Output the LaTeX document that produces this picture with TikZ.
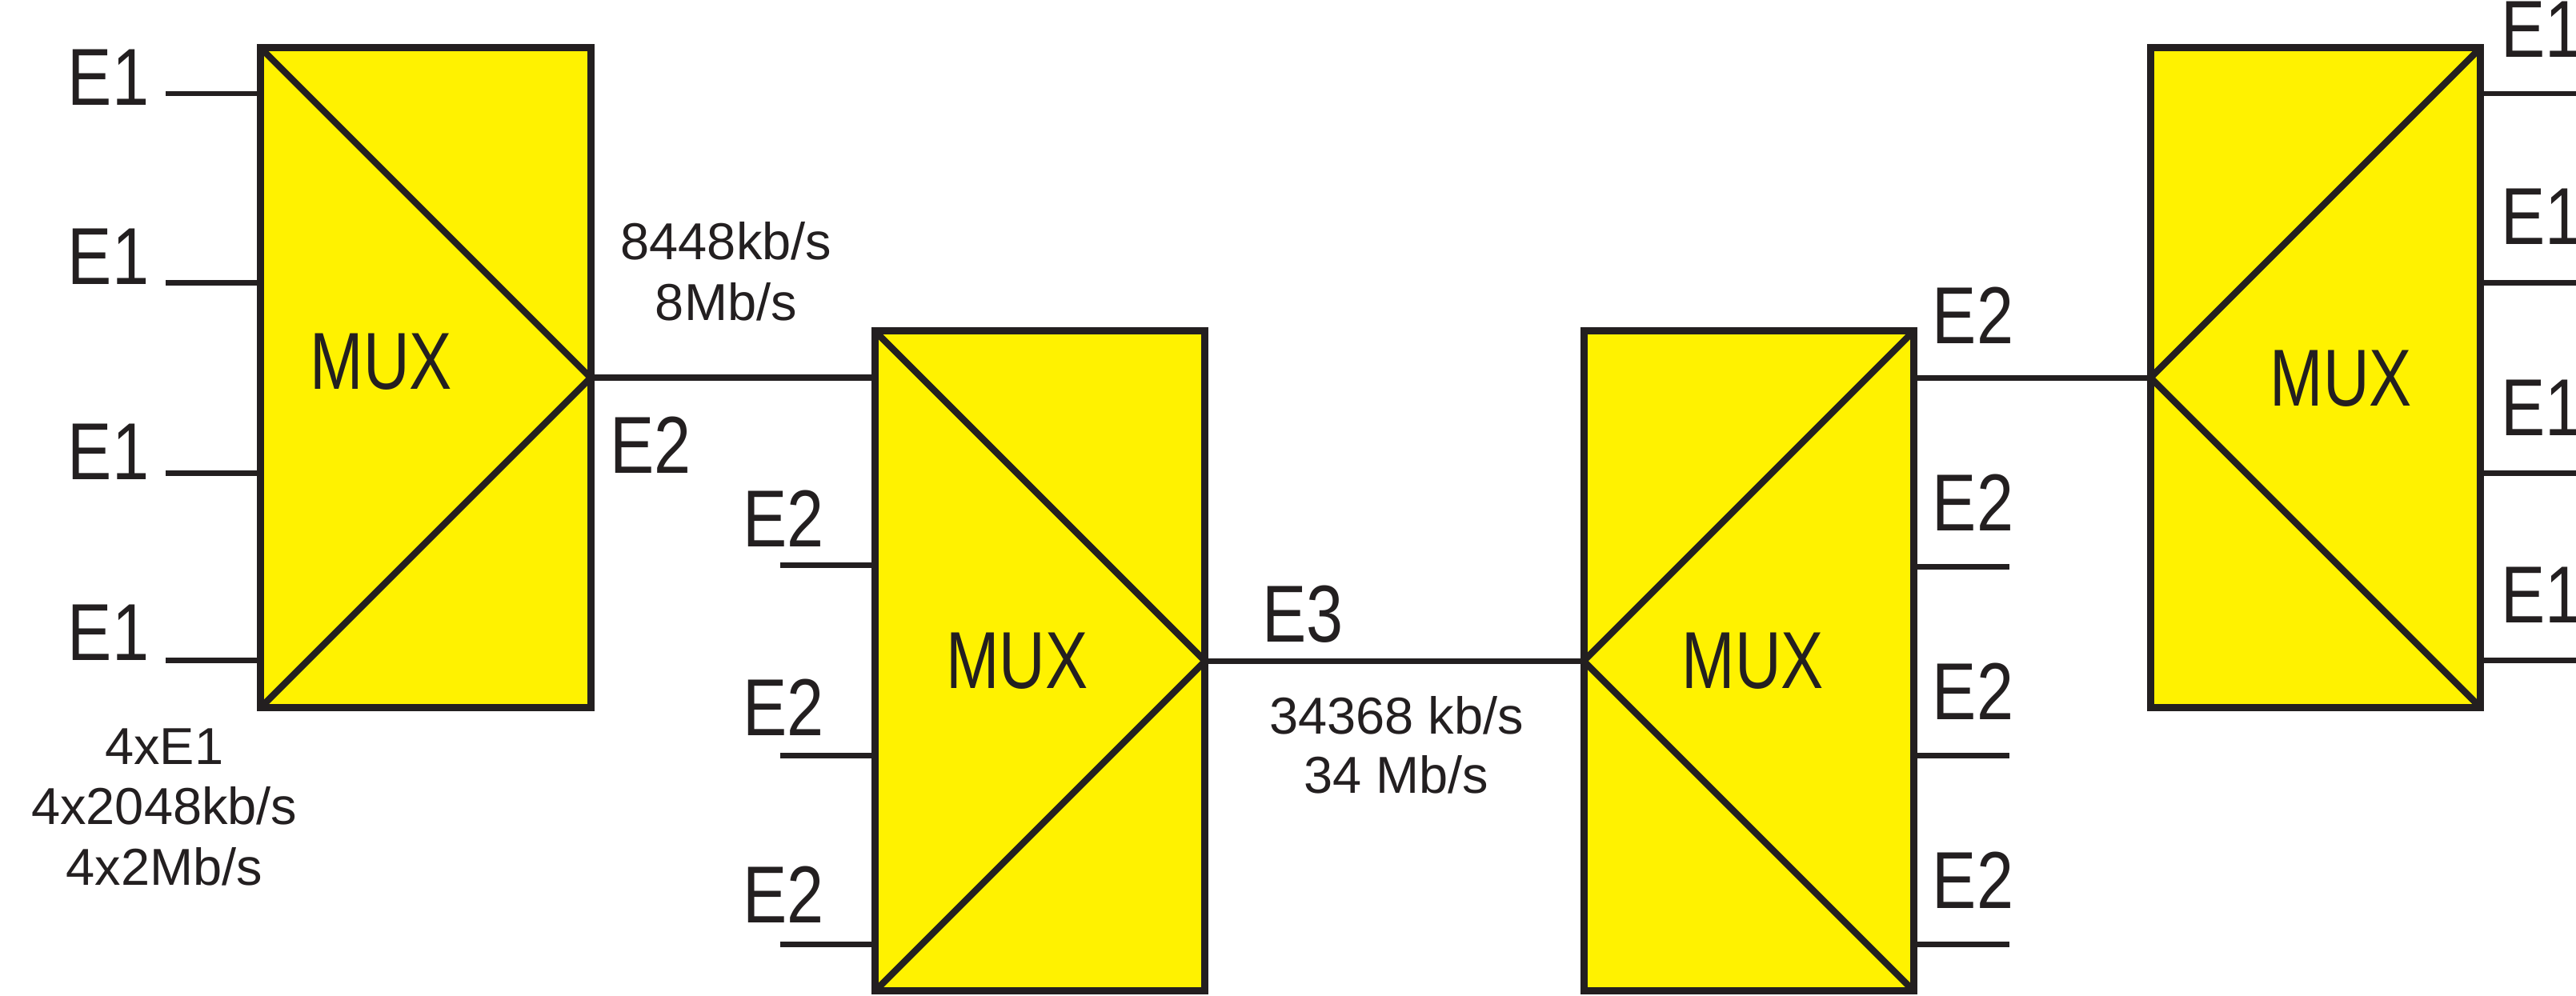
\documentclass[tikz,border=0pt]{standalone}
\usepackage{fontspec}
\setmainfont{Liberation Sans}
\newfontfamily\narrowfont[FakeStretch=0.82]{Liberation Sans}
\newfontfamily\muxfont[FakeStretch=0.79]{Liberation Sans}
\usetikzlibrary{positioning,calc}
\definecolor{muxyellow}{RGB}{255,242,0}
\definecolor{ink}{RGB}{35,31,32}

\begin{document}
\begin{tikzpicture}[x=0.2mm,y=-0.2mm,color=ink,
  mux/.style={draw=ink,fill=muxyellow,line width=2.5pt,outer sep=0pt,inner sep=0pt,
              minimum width=40.2mm,minimum height=80.4mm},
  diag/.style={line width=2.3pt},
  stub/.style={line width=1.9pt},
  trunk/.style={line width=2.1pt},
  lbl/.style={font=\narrowfont\fontsize{28}{28}\selectfont,anchor=base,inner sep=0pt},
  mx/.style={font=\muxfont\fontsize{28}{28}\selectfont,anchor=base,inner sep=0pt},
  rate/.style={font=\fontsize{18}{21}\selectfont,align=center,anchor=base,inner sep=0pt},
]
\useasboundingbox (0,0) rectangle (1568,606);

% the four multiplexers
\node[mux] (mux1) at (259,230)    {};
\node[mux] (mux2) at (633,402.5)  {};
\node[mux] (mux3) at (1064.5,402.5){};
\node[mux] (mux4) at (1409.5,230) {};

\draw[diag] (mux1.north west) -- (mux1.east) -- (mux1.south west);
\draw[diag] (mux2.north west) -- (mux2.east) -- (mux2.south west);
\draw[diag] (mux3.north east) -- (mux3.west) -- (mux3.south east);
\draw[diag] (mux4.north east) -- (mux4.west) -- (mux4.south east);

\node[mx] (t1) at (232,237)  {MUX};
\node[mx] (t2) at (619,419)  {MUX};
\node[mx] (t3) at (1067,419) {MUX};
\node[mx] (t4) at (1425,247) {MUX};

% E1 inputs of mux1
\foreach \y/\b [count=\i] in {57/64,172/173,288/292,402/402}{
  \coordinate (a\i) at (101,\y);
  \draw[stub] (a\i) -- (a\i -| mux1.west);
  \node[lbl] (la\i) at (66,\b) {E1};
}
\node[rate] (r1) at (100,539) {4xE1\\4x2048kb/s\\4x2Mb/s};

% mux1 -> mux2 (E2)
\draw[trunk] (mux1.east) -- (mux1.east -| mux2.west);
\node[lbl] (e2a) at (396,288) {E2};
\node[rate] (r2) at (442,195) {8448kb/s\\8Mb/s};

% other E2 inputs of mux2
\foreach \y/\b [count=\i] in {344/333,460/448,575/562}{
  \coordinate (b\i) at (475,\y);
  \draw[stub] (b\i) -- (b\i -| mux2.west);
  \node[lbl] (lb\i) at (477,\b) {E2};
}

% mux2 -> mux3 (E3)
\draw[trunk] (mux2.east) -- (mux3.west);
\node[lbl] (e3) at (793,391) {E3};
\node[rate,font=\fontsize{18}{20.5}\selectfont] (r3) at (850,483) {34368 kb/s\\34 Mb/s};

% E2 outputs of mux3
\draw[stub] (mux4.west) -- (mux4.west -| mux3.east);
\node[lbl] (lc1) at (1201,209) {E2};
\foreach \y/\b [count=\i from 2] in {345/323,460/438,575/553}{
  \coordinate (c\i) at (1223,\y);
  \draw[stub] (c\i -| mux3.east) -- (c\i);
  \node[lbl] (lc\i) at (1201,\b) {E2};
}

% E1 outputs of mux4
\foreach \y/\b [count=\i] in {57/35,172/149,288/265,402/379}{
  \coordinate (d\i) at (1575,\y);
  \draw[stub] (d\i -| mux4.east) -- (d\i);
  \node[lbl,anchor=base west] (ld\i) at (1522,\b) {E1};
}
\end{tikzpicture}
\end{document}
